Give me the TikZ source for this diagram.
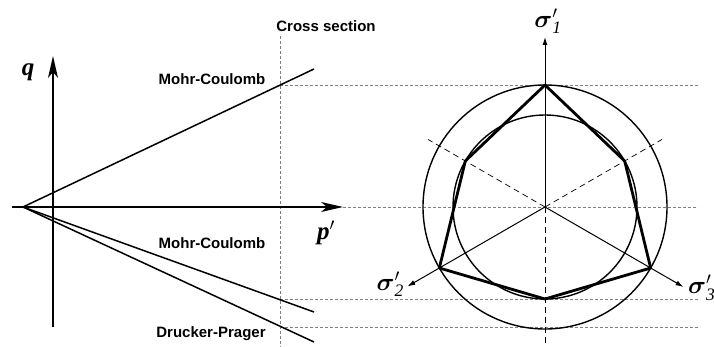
\documentclass[tikz,border=0pt]{standalone}
\usepackage{amsmath}
\usepackage{fontspec}
\setsansfont{Liberation Sans}
\setmainfont{Liberation Serif}
\usetikzlibrary{arrows.meta,calc}
\begin{document}
\begin{tikzpicture}[x=1pt,y=1pt,
  lab/.style={font=\sffamily\bfseries\fontsize{15}{17}\selectfont, inner sep=0pt},
  sym/.style={font=\rmfamily\bfseries\itshape\fontsize{25}{27}\selectfont, inner sep=0pt},
  guide/.style={gray, line width=0.6pt, dash pattern=on 3pt off 2pt},
  ray/.style={line width=0.7pt, dash pattern=on 6pt off 4pt},
  yld/.style={line width=1.5pt},
  bigaxis/.style={line width=1.3pt, -{Stealth[length=22pt,width=10pt,inset=6pt]}},
  saxis/.style={line width=1pt, -{Latex[length=8pt,width=5pt]}},
  hexa/.style={line width=2.8pt, line join=round}]
\useasboundingbox (0,0) rectangle (714,347);
% ---- left: meridian plane
\coordinate (O) at (23,140);
\coordinate (pstart) at (12,140);
\coordinate (ptip) at (343,140);
\coordinate (qbot) at (53,20);
\coordinate (qtip) at (53,291);
\coordinate (mcU) at (314,278);
\coordinate (mcL) at (314,35);
\coordinate (dpE) at (314,5);
\coordinate (csT) at (280,311);
\coordinate (csB) at (280,0);
\coordinate (xU) at (280,262);
\coordinate (xL) at (280,48);
\coordinate (xD) at (280,20);
\coordinate (eU) at (698,262);
\coordinate (eM) at (698,140);
\coordinate (eL) at (698,48);
\coordinate (eD) at (698,20);
% guides
\draw[guide] (csT) -- (csB);
\draw[guide] (xU) -- (eU);
\draw[guide] (ptip) -- (eM);
\draw[guide] (xL) -- (eL);
\draw[guide] (xD) -- (eD);
% axes
\draw[bigaxis] (pstart) -- (ptip);
\draw[bigaxis] (qbot) -- (qtip);
% yield lines
\draw[yld] (O) -- (mcU);
\draw[yld] (O) -- (mcL);
\draw[yld] (O) -- (dpE);
% labels
\node[lab] (cs) at (326,321) {Cross section};
\node[lab] (mc1) at (212,268) {Mohr-Coulomb};
\node[lab] (mc2) at (212,104) {Mohr-Coulomb};
\node[lab] (dp) at (211,13) {Drucker-Prager};
\node[sym] (q) at (28,275) {q};
\node[sym] (p) at (326,114) {p$'$};
% ---- right: deviatoric plane
\coordinate (C) at (545,140);
\coordinate (A1) at ($(C)+(90:122)$);
\coordinate (A2) at ($(C)+(210:122)$);
\coordinate (A3) at ($(C)+(330:122)$);
\coordinate (T12) at ($(C)+(150:92)$);
\coordinate (T13) at ($(C)+(30:92)$);
\coordinate (T23) at ($(C)+(270:92)$);
\draw[line width=1.4pt] (C) circle[radius=122];
\draw[line width=1.4pt] (C) circle[radius=92];
\draw[hexa] (A1) -- (T13) -- (A3) -- (T23) -- (A2) -- (T12) -- cycle;
% axes
\coordinate (S1) at (545,310);
\coordinate (S2) at ($(C)+(210:159)$);
\coordinate (S3) at ($(C)+(330:160)$);
\coordinate (R1) at ($(C)+(150:135)$);
\coordinate (R2) at ($(C)+(30:135)$);
\coordinate (R3) at (545,2);
\draw[saxis] (C) -- (S1);
\draw[saxis] (C) -- (S2);
\draw[saxis] (C) -- (S3);
\draw[ray] (C) -- (R1);
\draw[ray] (C) -- (R2);
\draw[ray] (C) -- (R3);
\node[sym] (s1) at (548,326) {$\boldsymbol{\sigma}'_{\mathit{1}}$};
\node[sym, anchor=east] (s2) at (404,63) {$\boldsymbol{\sigma}'_{\mathit{2}}$};
\node[sym, anchor=west] (s3) at (688,59) {$\boldsymbol{\sigma}'_{\mathit{3}}$};
\end{tikzpicture}
\end{document}
